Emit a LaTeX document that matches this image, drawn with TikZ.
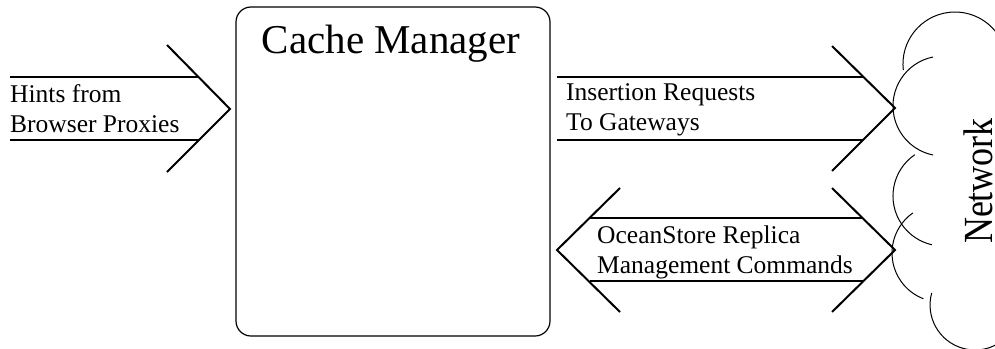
\documentclass[tikz,border=0pt]{standalone}
\usepackage{fontspec}
\setmainfont{Liberation Serif}
\begin{document}
\begin{tikzpicture}[x=1pt,y=-1pt,
  arrowline/.style={line width=2pt},
  cloudarc/.style={line width=1pt},
  lbl/.style={anchor=base west, inner sep=0pt, font=\fontsize{25.5}{29.5}\selectfont, align=left}]
\useasboundingbox (0,0) rectangle (995,348);
\begin{scope}
\clip (0,0) rectangle (995,348);
% Cache manager box
\node[draw, line width=1.2pt, rounded corners=15pt, minimum width=314pt, minimum height=329pt, inner sep=0pt] (cm) at (393,171.5) {};
\node[anchor=base, inner sep=0pt, font=\fontsize{41}{48}\selectfont] (title) at (391,53) {Cache Manager};
% Hints arrow
\coordinate (hintTip) at (230,109);
\draw[arrowline] (10,77) -- (198.5,77);
\draw[arrowline] (10,140) -- (198.5,140);
\draw[arrowline] (167,45) -- (hintTip) -- (167,172);
\node[lbl] (hints) at (10,132) {Hints from\\Browser Proxies};
% Insertion arrow
\coordinate (insTip) at (895,108);
\draw[arrowline] (557,77) -- (863.5,77);
\draw[arrowline] (557,140) -- (863,140);
\draw[arrowline] (832,46) -- (insTip) -- (832,171);
\node[lbl] (ins) at (566,130) {Insertion Requests\\To Gateways};
% Double arrow
\coordinate (omL) at (557,250);
\coordinate (omR) at (895,250);
\draw[arrowline] (589.5,218) -- (862.5,218);
\draw[arrowline] (589.5,281) -- (862.5,281);
\draw[arrowline] (620,188) -- (omL) -- (620,312);
\draw[arrowline] (832,188) -- (omR) -- (832,312);
\node[lbl] (ocean) at (597,273) {OceanStore Replica\\Management Commands};
% Cloud
\draw[cloudarc] (903.3,70) arc[start angle=173.4, end angle=370, radius=52];
\draw[cloudarc] (933,57) arc[start angle=258.5, end angle=101.5, radius=50];
\draw[cloudarc] (914.8,154.7) arc[start angle=235.7, end angle=102.8, radius=50];
\draw[cloudarc] (912.9,212.9) arc[start angle=235, end angle=111, radius=49];
\draw[cloudarc] (931.7,292.9) arc[start angle=195.6, end angle=60, radius=45];
\node[rotate=90, anchor=base, inner sep=0pt, font=\fontsize{36}{40}\selectfont] (net) at (992,181) {\scalebox{1}[1.15]{Network}};
\end{scope}
\end{tikzpicture}
\end{document}
